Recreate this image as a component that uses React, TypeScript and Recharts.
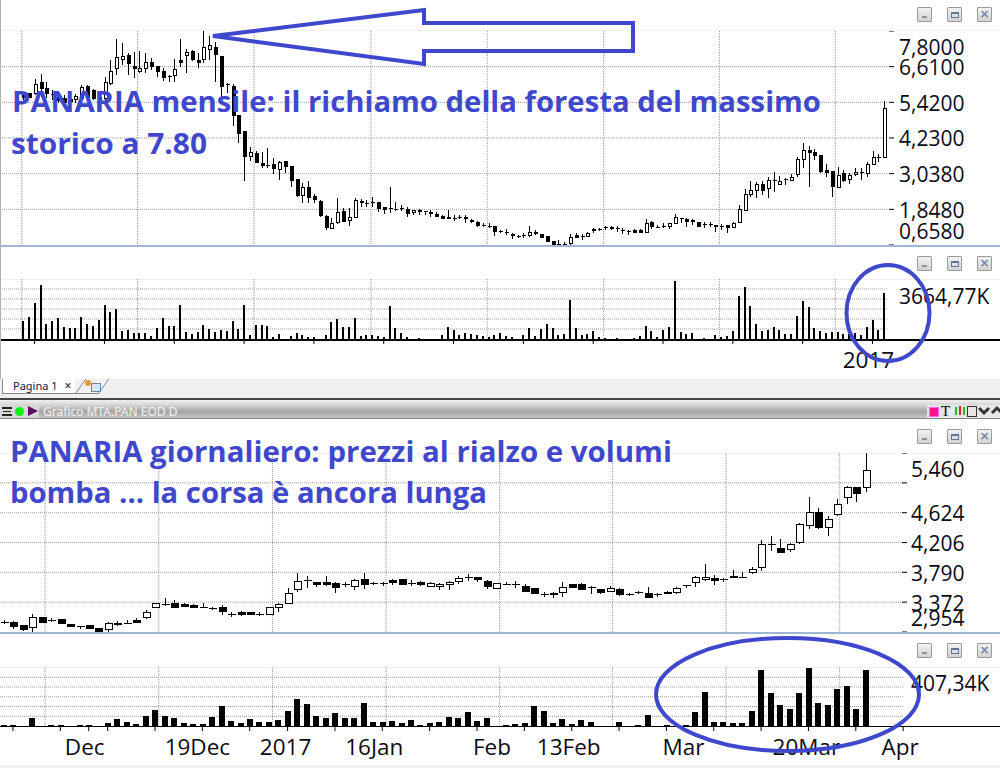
import React from "react";
import { Bar, CartesianGrid, ComposedChart, XAxis, YAxis } from "recharts";

// long-range ("mensile") pane, one value per candle
const monthlyOpen = [
  5.72,5.72,5.74,6.09,5.89,5.70,5.61,5.55,5.52,5.54,
  5.55,5.97,5.83,5.61,5.58,6.08,6.55,6.88,7.00,6.62,
  6.48,6.55,6.75,6.62,6.47,6.29,6.32,6.82,6.99,7.13,
  6.82,6.85,7.19,7.25,6.97,6.03,5.97,5.00,4.45,3.64,
  3.74,3.38,3.34,3.36,3.20,3.45,3.28,2.85,2.32,2.58,
  2.29,2.13,1.61,1.24,1.44,1.78,1.48,1.60,2.11,2.07,
  2.09,2.09,1.92,1.88,1.85,1.88,1.86,1.75,1.83,1.78,
  1.77,1.68,1.62,1.60,1.57,1.59,1.59,1.50,1.44,1.31,
  1.30,1.28,1.12,1.10,1.04,0.97,0.98,1.00,1.09,1.01,
  0.95,0.78,0.70,0.70,0.72,0.98,0.96,0.96,1.19,1.19,
  1.25,1.27,1.23,1.15,1.11,1.16,1.16,1.09,1.41,1.27,
  1.28,1.28,1.38,1.57,1.53,1.49,1.41,1.36,1.36,1.34,
  1.30,1.31,1.27,1.41,1.83,2.37,2.50,2.69,2.55,2.82,
  2.69,2.86,2.83,3.02,3.54,3.82,3.76,3.66,3.15,3.14,
  2.60,3.06,2.87,3.03,3.08,3.07,3.37,3.60,3.61,
];
const monthlyHigh = [
  5.78,5.74,6.19,6.37,6.11,5.83,5.72,5.66,5.61,5.69,
  6.00,6.00,5.85,5.66,6.25,6.83,7.52,7.39,7.08,7.11,
  7.13,7.05,6.89,6.64,6.55,6.33,6.85,7.52,7.19,7.17,
  7.05,7.80,7.64,7.44,6.97,6.08,6.03,5.00,4.45,3.94,
  3.81,3.77,3.89,3.55,3.47,3.47,3.28,2.85,2.72,2.78,
  2.36,2.16,1.65,1.55,2.23,1.88,1.88,2.23,2.18,2.16,
  2.25,2.09,1.92,2.58,2.09,2.00,1.92,1.81,1.87,1.78,
  1.83,1.75,1.66,1.83,1.66,1.66,1.66,1.54,1.46,1.40,
  1.40,1.30,1.16,1.18,1.06,0.99,1.07,1.29,1.16,1.04,
  0.97,0.80,0.82,0.77,1.02,1.05,1.02,1.10,1.23,1.24,
  1.29,1.29,1.29,1.21,1.16,1.18,1.18,1.51,1.46,1.33,
  1.40,1.40,1.69,1.57,1.55,1.53,1.44,1.44,1.43,1.34,
  1.35,1.31,1.44,2.00,2.52,2.79,2.75,2.79,2.92,3.09,
  2.96,2.88,3.02,3.58,4.05,3.96,3.85,3.66,3.35,3.14,
  3.25,3.16,3.07,3.23,3.22,3.42,3.80,3.70,5.46,
];
const monthlyLow = [
  5.50,5.55,5.66,5.61,5.55,5.50,5.39,5.37,5.33,5.41,
  5.50,5.55,5.50,5.52,5.50,6.00,6.33,6.67,6.33,6.22,
  6.39,6.41,6.50,6.28,6.13,6.11,6.11,6.61,6.39,6.80,
  6.58,6.72,6.83,6.11,5.61,5.72,4.63,4.05,2.81,3.47,
  3.38,3.22,3.22,3.03,2.83,3.07,2.60,2.27,2.07,2.05,
  2.05,1.60,1.16,1.21,1.36,1.44,1.29,1.55,1.92,1.94,
  1.94,1.77,1.69,1.71,1.80,1.80,1.60,1.66,1.67,1.66,
  1.60,1.60,1.51,1.51,1.46,1.53,1.40,1.40,1.27,1.25,
  1.23,0.97,1.05,0.99,0.87,0.88,0.89,0.94,0.98,0.91,
  0.76,0.67,0.66,0.66,0.66,0.88,0.82,0.94,1.07,1.11,
  1.16,1.16,1.10,1.02,0.99,1.07,1.07,1.07,1.20,1.23,
  1.21,1.18,1.35,1.40,1.27,1.31,1.25,1.23,1.27,1.10,
  1.16,1.07,1.23,1.38,1.80,2.27,2.24,2.33,2.24,2.43,
  2.65,2.65,2.80,2.92,3.24,2.60,3.50,3.05,2.92,2.27,
  2.56,2.77,2.69,2.97,2.83,2.94,3.33,3.44,3.56,
];
const monthlyClose = [
  5.61,5.61,6.02,5.91,5.74,5.70,5.50,5.44,5.46,5.63,
  5.94,5.61,5.55,5.54,6.11,6.48,6.92,6.97,6.74,6.58,
  6.55,6.75,6.64,6.48,6.28,6.29,6.52,6.75,7.09,6.85,
  6.78,7.28,7.32,7.04,5.97,6.03,5.00,4.41,3.64,3.77,
  3.42,3.34,3.34,3.23,3.43,3.31,2.83,2.34,2.58,2.27,
  2.18,1.66,1.27,1.38,1.75,1.47,1.58,2.15,2.08,2.07,
  2.09,1.90,1.85,1.88,1.85,1.88,1.71,1.81,1.78,1.78,
  1.73,1.64,1.56,1.56,1.57,1.59,1.56,1.45,1.34,1.31,
  1.30,1.14,1.12,1.10,0.98,0.97,0.98,1.09,1.05,0.94,
  0.80,0.70,0.70,0.70,0.91,0.94,0.96,1.07,1.15,1.19,
  1.25,1.23,1.23,1.15,1.11,1.10,1.10,1.38,1.30,1.27,
  1.28,1.38,1.58,1.57,1.47,1.45,1.30,1.36,1.36,1.30,
  1.30,1.26,1.38,1.86,2.36,2.49,2.69,2.50,2.83,2.82,
  2.78,2.86,2.94,3.52,3.82,3.77,3.67,3.14,3.09,2.64,
  3.00,2.84,3.00,3.10,3.08,3.36,3.58,3.60,5.22,
];
const monthlyVolume = [
  1099,1344,2199,3298,916,1099,1283,733,672,672,
  1344,916,794,1161,2077,1649,1832,489,550,366,
  366,366,183,672,1283,794,794,2077,428,305,
  428,855,611,428,550,489,1099,611,2077,244,
  855,855,794,122,305,0,183,366,244,122,
  122,0,244,1038,1222,733,733,1283,183,244,
  244,183,122,2016,672,366,122,0,61,0,
  0,0,244,733,550,244,366,305,244,183,
  122,244,366,183,122,0,244,672,183,611,
  916,672,244,305,2382,672,244,305,489,122,
  61,0,61,0,0,61,183,794,489,122,
  550,733,3543,428,305,366,0,61,0,244,
  122,183,489,2627,3176,2016,916,489,550,733,
  550,305,305,1405,2321,1955,672,489,366,428,
  428,305,305,366,244,733,1161,550,2810,
];
const monthlyPriceTicks = [0.658, 1.848, 3.038, 4.23, 5.42, 6.61, 7.8];
const monthlyPriceLabels = ["0,6580", "1,8480", "3,0380", "4,2300", "5,4200", "6,6100", "7,8000"];
const monthlyPriceGrid = [1.848, 3.038, 4.23, 5.42, 6.61];
const monthlyVolumeGrid = [610.8, 1221.6, 1832.4, 2443.2, 3054];
const monthlyGridX = [-0.2, 19.7, 39.7, 59.8, 79.8, 99.8, 119.7, 139.6];
const monthlyTicks = [2, 14, 26, 38, 50, 62, 74, 86, 98, 110, 122, 134, 146];

// daily ("giornaliero") pane
const dailyOpen = [
  3.09,3.09,3.05,3.02,3.16,3.12,3.13,3.06,3.04,3.05,
  3.01,3.00,3.08,3.08,3.12,3.16,3.30,3.35,3.36,3.35,
  3.33,3.30,3.29,3.30,3.21,3.23,3.24,3.21,3.21,3.31,
  3.36,3.55,3.68,3.65,3.65,3.64,3.63,3.60,3.69,3.64,
  3.64,3.68,3.69,3.64,3.66,3.60,3.60,3.62,3.67,3.72,
  3.72,3.67,3.57,3.63,3.63,3.60,3.57,3.49,3.50,3.51,
  3.63,3.63,3.58,3.55,3.53,3.55,3.49,3.52,3.50,3.48,
  3.52,3.51,3.61,3.65,3.69,3.71,3.70,3.74,3.73,3.79,
  3.87,4.18,4.13,4.12,4.21,4.45,4.64,4.42,4.60,4.85,
  4.98,4.98,
];
const dailyHigh = [
  3.12,3.11,3.05,3.21,3.16,3.15,3.13,3.06,3.04,3.05,
  3.01,3.10,3.11,3.12,3.15,3.26,3.36,3.43,3.40,3.36,
  3.35,3.36,3.31,3.33,3.23,3.25,3.24,3.24,3.31,3.36,
  3.57,3.78,3.74,3.66,3.74,3.65,3.66,3.70,3.78,3.66,
  3.66,3.70,3.70,3.68,3.67,3.66,3.64,3.67,3.74,3.76,
  3.72,3.68,3.64,3.65,3.67,3.63,3.57,3.52,3.51,3.65,
  3.63,3.64,3.60,3.55,3.60,3.57,3.50,3.53,3.58,3.50,
  3.53,3.58,3.61,3.74,3.91,3.75,3.71,3.82,3.80,3.86,
  4.24,4.30,4.25,4.20,4.48,4.84,4.69,4.58,4.81,5.00,
  4.99,5.46,
];
const dailyLow = [
  3.07,3.00,2.97,2.96,3.08,3.09,3.06,3.02,3.00,3.00,
  2.96,2.96,3.04,3.08,3.09,3.13,3.29,3.32,3.30,3.31,
  3.30,3.30,3.26,3.19,3.16,3.18,3.20,3.18,3.20,3.24,
  3.35,3.52,3.57,3.59,3.60,3.50,3.59,3.54,3.56,3.61,
  3.60,3.61,3.62,3.60,3.60,3.59,3.54,3.54,3.63,3.67,
  3.65,3.56,3.56,3.61,3.57,3.52,3.49,3.45,3.43,3.45,
  3.57,3.55,3.49,3.49,3.51,3.46,3.46,3.48,3.43,3.45,
  3.48,3.49,3.57,3.58,3.67,3.61,3.65,3.71,3.73,3.76,
  3.81,4.09,4.06,4.07,4.19,4.40,4.39,4.30,4.58,4.75,
  4.77,4.91,
];
const dailyClose = [
  3.09,3.04,2.99,3.17,3.10,3.12,3.08,3.04,3.04,3.01,
  2.97,3.08,3.06,3.08,3.10,3.23,3.36,3.35,3.31,3.32,
  3.31,3.30,3.29,3.25,3.21,3.21,3.21,3.21,3.31,3.34,
  3.50,3.67,3.68,3.63,3.63,3.59,3.63,3.68,3.62,3.64,
  3.64,3.66,3.63,3.64,3.63,3.64,3.63,3.66,3.71,3.72,
  3.69,3.60,3.64,3.63,3.63,3.53,3.50,3.49,3.48,3.59,
  3.59,3.56,3.58,3.52,3.57,3.48,3.49,3.52,3.45,3.48,
  3.51,3.57,3.61,3.73,3.72,3.68,3.70,3.72,3.73,3.83,
  4.18,4.18,4.08,4.19,4.46,4.63,4.42,4.53,4.74,4.98,
  4.90,5.22,
];
const dailyVolume = [
  5,7,0,53,0,5,5,0,5,5,
  0,18,46,25,12,67,109,67,53,18,
  12,12,60,136,32,18,46,25,25,39,
  102,185,150,67,53,88,53,53,157,25,
  25,32,18,39,5,18,25,60,53,95,
  32,53,0,5,14,21,141,106,21,51,
  14,44,28,0,0,28,0,5,79,0,
  5,0,7,99,238,28,28,21,21,106,
  390,231,148,120,231,397,162,148,252,273,
  120,390,
];
const dailyPriceTicks = [2.954, 3.372, 3.79, 4.206, 4.624, 5.042, 5.46];
const dailyPriceLabels = ["2,954", "3,372", "3,790", "4,206", "4,624", "", "5,460"];
const dailyPriceGrid = [3.372, 3.79, 4.206, 4.624, 5.042];
const dailyVolumeGrid = [67.3, 134.6, 202, 269.3, 336.6];
const dailyGridX = [4.4, 16.4, 28.4, 40.4, 52.4, 64.3, 76.3, 88.3];
const dailyTicks = [1, 6, 9, 11, 16, 21, 26, 30, 35, 40, 45, 50, 55, 60, 65, 70, 75, 80, 85, 90, 95];
const dailyTickLabels: Record<number, string> = {
  9: "Dec", 21: "19Dec", 30: "2017", 40: "16Jan", 50: "Feb", 60: "13Feb", 70: "Mar", 85: "20Mar", 95: "Apr",
};
const dailyLabelNudge: Record<number, number> = {
  9: -4, 21: -5, 30: -2, 40: -8, 50: 15, 60: -3, 70: 17, 85: -2, 95: -3,
};

const monthlyCandles = monthlyOpen.map((open, i) => ({
  idx: i, open, high: monthlyHigh[i], low: monthlyLow[i], close: monthlyClose[i], volume: monthlyVolume[i],
}));
const dailyCandles = dailyOpen.map((open, i) => ({
  idx: i, open, high: dailyHigh[i], low: dailyLow[i], close: dailyClose[i], volume: dailyVolume[i],
}));

const BLUE = "#3f48cc";
const AXIS_FONT = "'Open Sans', sans-serif";
const MONTHLY_X: [number, number] = [-3.95, 148.67];
const DAILY_X: [number, number] = [-0.37, 95.09];

function renderCandle(props: any) {
  const { x, y, width, height, payload } = props;
  const { open, high, low, close } = payload;
  const perUnit = high > low ? height / (high - low) : 0;
  const toY = (v: number) => y + (high - v) * perUnit;
  const cx = Math.round(x + width / 2) + 0.5;
  const top = Math.round(toY(Math.max(open, close))) + 0.5;
  const bottom = Math.round(toY(Math.min(open, close))) + 0.5;
  const left = Math.round(cx - width / 2);
  return (
    <g shapeRendering="crispEdges">
      <line x1={cx} x2={cx} y1={y} y2={y + height} stroke="#000" />
      {open === close ? (
        <line x1={left} x2={left + width} y1={top} y2={top} stroke="#000" />
      ) : (
        <rect x={left + 0.5} y={top} width={width - 1} height={Math.max(bottom - top, 1)}
          fill={close > open ? "#fff" : "#000"} stroke="#000" />
      )}
    </g>
  );
}

// volume bars snapped to whole pixels so they all come out the same width
function renderVolume(props: any) {
  const { x, y, width, height } = props;
  if (!height) return <g />;
  return <rect x={Math.round(x)} y={y} width={width} height={height} fill="#000" shapeRendering="crispEdges" />;
}

// right axis tick: short mark plus text, the outer labels are pushed inside the pane
function priceTick(values: number[], labels: string[], textX: number, markX: number, nudges: Record<number, number>) {
  return (props: any) => {
    const { y, payload } = props;
    const i = values.indexOf(payload.value);
    return (
      <g>
        <line x1={markX} x2={markX + 5} y1={y} y2={y} stroke="#000" />
        <text x={textX} y={y + (nudges[i] || 0)} dy="0.4em" fontSize={21} fontFamily={AXIS_FONT} fill="#0a0a14">
          {labels[i]}
        </text>
      </g>
    );
  };
}

function volumeTick(label: string, textX: number, dy: number) {
  return (props: any) => (
    <text x={textX} y={props.y + dy} dy="0.4em" fontSize={21} fontFamily={AXIS_FONT} fill="#0a0a14">
      {label}
    </text>
  );
}

function timeTick(labels: Record<number, string>, nudges: Record<number, number>, textDy: number) {
  return (props: any) => {
    const { x, y, payload } = props;
    const label = labels[payload.value];
    return (
      <g>
        <line x1={x} x2={x} y1={y} y2={y + 5} stroke="#000" />
        {label && (
          <text x={x + (nudges[payload.value] || 0)} y={y + textDy} textAnchor="middle" fontSize={22.5}
            fontFamily={AXIS_FONT} fill="#0a0a14">
            {label}
          </text>
        )}
      </g>
    );
  };
}

function WindowButtons({ top }: { top: number }) {
  const boxBase = {
    position: "absolute", top, width: 13, height: 13, border: "1px solid #9a9a9a", borderRadius: 1,
    background: "linear-gradient(#f2f2f2,#d2d2d2)", display: "flex", alignItems: "center", justifyContent: "center",
  } as React.CSSProperties;
  return (
    <>
      <div style={{ ...boxBase, left: 917 }}>
        <div style={{ width: 5, height: 2, marginTop: 4, background: "#8a929c" }} />
      </div>
      <div style={{ ...boxBase, left: 947 }}>
        <div style={{ width: 6, height: 3, border: "1px solid #5f7696", borderTopWidth: 2 }} />
      </div>
      <div style={{ ...boxBase, left: 977, color: "#6d86a6", fontSize: 12, fontWeight: 700, lineHeight: "13px", fontFamily: "'DejaVu Sans', sans-serif" }}>×</div>
    </>
  );
}

const gridStyle = { stroke: "#9a9a9a", strokeDasharray: "1 1" };

function PricePane(props: any) {
  const { top, height, rightWidth, data, domain, xDomain, barSize, ticks, grid, gridX, tick } = props;
  return (
    <div style={{ position: "absolute", left: 0, top }}>
      <ComposedChart width={1000} height={height} data={data} margin={{ top: 0, right: 0, bottom: 0, left: 0 }}>
        <CartesianGrid {...gridStyle} horizontalValues={grid} verticalValues={gridX} />
        <XAxis dataKey="idx" type="number" domain={xDomain} hide allowDataOverflow />
        <YAxis orientation="right" width={rightWidth} type="number" domain={domain} ticks={ticks} interval={0}
          axisLine={false} tickLine={false} tickSize={0} tickMargin={0} tick={tick} allowDataOverflow />
        <Bar dataKey={(d: any) => [d.low, d.high]} barSize={barSize} shape={renderCandle} isAnimationActive={false} />
      </ComposedChart>
    </div>
  );
}

function VolumePane(props: any) {
  const { top, height, axisHeight, rightWidth, data, max, xDomain, barSize, grid, gridX, ticks, tick, xTick } = props;
  return (
    <div style={{ position: "absolute", left: 0, top }}>
      <ComposedChart width={1000} height={height} data={data} margin={{ top: 0, right: 0, bottom: 0, left: 0 }}>
        <CartesianGrid {...gridStyle} horizontalValues={grid} verticalValues={gridX} />
        <XAxis dataKey="idx" type="number" domain={xDomain} ticks={ticks} interval={0} height={axisHeight}
          axisLine={false} tickLine={false} tickSize={0} tickMargin={0} tick={xTick} allowDataOverflow />
        <YAxis orientation="right" width={rightWidth} type="number" domain={[0, max]} ticks={[max]} interval={0}
          axisLine={false} tickLine={false} tickSize={0} tickMargin={0} tick={tick} allowDataOverflow />
        <Bar dataKey="volume" fill="#000" barSize={barSize} shape={renderVolume} isAnimationActive={false} />
      </ComposedChart>
    </div>
  );
}

const hline = (top: number, height: number, background: string, left = 0, right = 1000) => (
  <div style={{ position: "absolute", left, top, width: right - left, height, background }} />
);

export default function App() {
  return (
    <div style={{ position: "absolute", left: 0, top: 0, width: 1000, height: 768, background: "#fff", overflow: "hidden" }}>
      {hline(30, 1, "#f0f0f0")}
      {hline(279, 1, "#f0f0f0")}
      {hline(453, 1, "#f0f0f0")}
      {hline(667, 1, "#f0f0f0")}

      <PricePane top={31} height={214} rightWidth={112} data={monthlyCandles} domain={[0.658, 7.8]} xDomain={MONTHLY_X}
        barSize={4} ticks={monthlyPriceTicks} grid={monthlyPriceGrid} gridX={monthlyGridX}
        tick={priceTick(monthlyPriceTicks, monthlyPriceLabels, 899, 889, { 0: -14, 6: 16 })} />

      {/* tab strip goes under the volume pane's axis text */}
      {hline(379, 20, "#f0f0f0")}
      <VolumePane top={279} height={100} axisHeight={40} rightWidth={112} data={monthlyCandles} max={3664.77}
        xDomain={MONTHLY_X} barSize={2} grid={monthlyVolumeGrid} gridX={monthlyGridX} ticks={monthlyTicks}
        tick={volumeTick("3664,77K", 899, 17)} xTick={timeTick({ 146: "2017" }, { 146: -4 }, 29)} />

      <PricePane top={453} height={179} rightWidth={96} data={dailyCandles} domain={[2.954, 5.46]} xDomain={DAILY_X}
        barSize={8} ticks={dailyPriceTicks} grid={dailyPriceGrid} gridX={dailyGridX}
        tick={priceTick(dailyPriceTicks, dailyPriceLabels, 911, 902, { 0: -14, 6: 16 })} />
      <VolumePane top={667} height={101} axisHeight={42} rightWidth={96} data={dailyCandles} max={407.34}
        xDomain={DAILY_X} barSize={6} grid={dailyVolumeGrid} gridX={dailyGridX} ticks={dailyTicks}
        tick={volumeTick("407,34K", 911, 16)} xTick={timeTick(dailyTickLabels, dailyLabelNudge, 29)} />

      {hline(339, 2, "#000")}
      {hline(726, 1, "#000")}
      {hline(245, 2, "#9db6d2")}
      {hline(632, 2, "#9db6d2")}
      <div style={{ position: "absolute", left: 0, top: 0, width: 1, height: 379, background: "#b0b0b0" }} />

      {/* tab and the second window's title bar */}
      <div style={{
        position: "absolute", left: 2, top: 379, width: 72, height: 14, background: "#fff", borderLeft: "1px solid #888",
        borderBottom: "1px solid #888", fontFamily: "'Noto Sans', sans-serif", fontSize: 11, lineHeight: "14px",
        color: "#102040", whiteSpace: "nowrap",
      }}>
        <span style={{ marginLeft: 10 }}>Pagina 1</span>
        <span style={{ marginLeft: 7, color: "#555", fontWeight: 700, fontSize: 12 }}>×</span>
      </div>
      <div style={{
        position: "absolute", left: 80, top: 379, width: 22, height: 14, background: "#f0f0f0", transform: "skewX(-35deg)",
        borderLeft: "1px solid #888", borderRight: "1px solid #888", borderBottom: "1px solid #888",
      }} />
      <div style={{ position: "absolute", left: 91, top: 383, width: 8, height: 7, background: "#d8e4f0", border: "1px solid #6a88a8" }} />
      <div style={{ position: "absolute", left: 85, top: 380, width: 6, height: 6, background: "#e59a2e", borderRadius: 3 }} />
      {hline(398, 2, "#444")}
      <div style={{
        position: "absolute", left: 0, top: 400, width: 1000, height: 18,
        background: "linear-gradient(#f0f0f0 0%,#d8d8d8 25%,#a4a4a4 65%,#c6c6c6 100%)",
      }} />
      {hline(418, 1, "#888")}
      <div style={{ position: "absolute", left: 0, top: 405, width: 39, height: 13, background: "#d8d8d8" }} />
      <div style={{ position: "absolute", left: 2, top: 407, width: 10, height: 9, borderTop: "2px solid #222", borderBottom: "2px solid #222", boxSizing: "border-box" }} />
      <div style={{ position: "absolute", left: 3, top: 411, width: 8, height: 1, background: "#222" }} />
      <div style={{ position: "absolute", left: 15, top: 407, width: 9, height: 9, borderRadius: 5, background: "#10f010" }} />
      <div style={{ position: "absolute", left: 28, top: 406, width: 0, height: 0, borderLeft: "10px solid #5a1060", borderTop: "5px solid transparent", borderBottom: "5px solid transparent" }} />
      <div style={{ position: "absolute", left: 43, top: 404, color: "#f0f0f0", fontFamily: "'Noto Sans', sans-serif", fontSize: 12, lineHeight: "16px", whiteSpace: "nowrap" }}>
        Grafico MTA.PAN EOD D
      </div>
      <div style={{ position: "absolute", left: 927, top: 405, width: 73, height: 13, background: "#e6e6e6" }} />
      <div style={{ position: "absolute", left: 929, top: 407, width: 8, height: 8, background: "#ff1090", border: "1px solid #f6f" }} />
      <div style={{ position: "absolute", left: 941, top: 403, fontFamily: "'Liberation Serif', serif", fontSize: 15, lineHeight: "16px" }}>T</div>
      <div style={{ position: "absolute", left: 955, top: 407, width: 2, height: 8, background: "#2b2" }} />
      <div style={{ position: "absolute", left: 959, top: 406, width: 2, height: 9, background: "#d22" }} />
      <div style={{ position: "absolute", left: 963, top: 407, width: 2, height: 8, background: "#2b2" }} />
      <div style={{ position: "absolute", left: 967, top: 406, width: 8, height: 9, border: "1px solid #333" }} />
      <svg width={30} height={14} style={{ position: "absolute", left: 978, top: 404 }}>
        <polyline points="1,4 6,9 11,4" fill="none" stroke="#333" strokeWidth={3} />
        <polyline points="14,9 19,4 24,9" fill="none" stroke="#333" strokeWidth={3} />
      </svg>
      {hline(765, 3, "#f0f0f0")}

      <WindowButtons top={7} />
      <WindowButtons top={256} />
      <WindowButtons top={429} />
      <WindowButtons top={643} />

      {/* hand drawn notes on top of everything */}
      <svg width={1000} height={768} style={{ position: "absolute", left: 0, top: 0 }}>
        <g fill={BLUE} fontFamily="'Open Sans', sans-serif" fontWeight={700} fontSize={29}>
          <text x={12} y={112} textLength={809} lengthAdjust="spacingAndGlyphs">PANARIA mensile: il richiamo della foresta del massimo</text>
          <text x={11} y={154} textLength={196} lengthAdjust="spacingAndGlyphs">storico a 7.80</text>
          <text x={10} y={462} textLength={662} lengthAdjust="spacingAndGlyphs">PANARIA giornaliero: prezzi al rialzo e volumi</text>
          <text x={10} y={503} textLength={477} lengthAdjust="spacingAndGlyphs">bomba ... la corsa è ancora lunga</text>
        </g>
        <polygon points="213,36 424,10 424,23 633,23 633,51 424,51 424,64" fill="none" stroke={BLUE} strokeWidth={4} />
        <ellipse cx={888} cy={313} rx={41.5} ry={48} fill="none" stroke={BLUE} strokeWidth={4} />
        <ellipse cx={787.5} cy={694.5} rx={131.5} ry={56.5} fill="none" stroke={BLUE} strokeWidth={4} />
      </svg>
    </div>
  );
}
